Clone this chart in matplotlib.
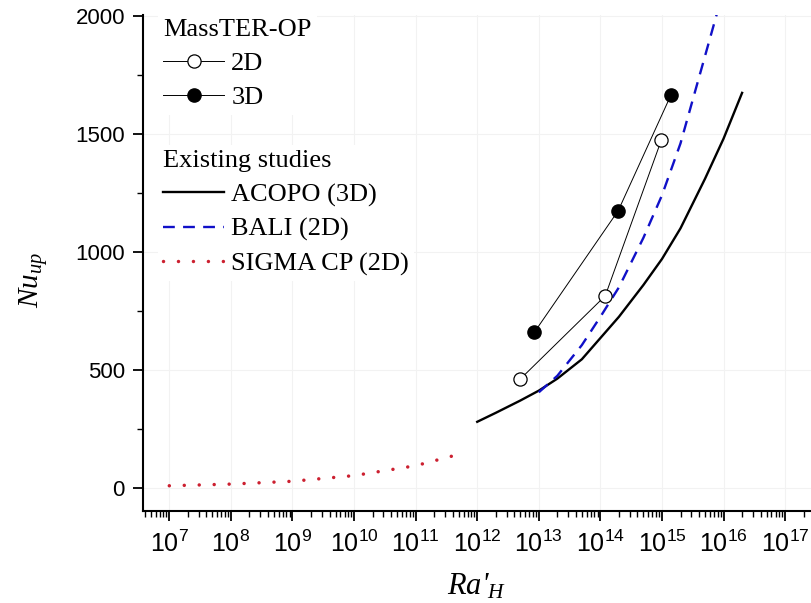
import matplotlib
matplotlib.use("Agg")
import matplotlib.pyplot as plt
from matplotlib.lines import Line2D
from matplotlib.ticker import LogLocator, NullFormatter, MultipleLocator

# MassTER-OP results
ra_2d = [5.0e12, 1.2e14, 9.8e14]
nu_2d = [461, 814, 1475]
ra_3d = [8.5e12, 1.95e14, 1.4e15]
nu_3d = [660, 1175, 1665]

# existing studies
acopo_ra = [1e12, 2e12, 5e12, 1e13, 2e13, 5e13, 1e14, 2e14, 5e14, 1e15,
            2e15, 5e15, 1e16, 2e16]
acopo_nu = [280, 318, 370, 412, 463, 545, 635, 725, 860, 970,
            1100, 1310, 1480, 1674]
bali_ra = [1e13, 2e13, 5e13, 1e14, 2e14, 5e14, 1e15, 2e15, 5e15, 1e16]
bali_nu = [405, 475, 605, 725, 850, 1060, 1240, 1460, 1830, 2110]
sigma_ra = [1e7, 1e8, 1e9, 1e10, 1e11, 5e11]
sigma_nu = [9, 16, 28, 52, 94, 142]

plt.rcParams['mathtext.fontset'] = 'custom'
plt.rcParams['mathtext.rm'] = 'Liberation Sans'
plt.rcParams['mathtext.it'] = 'Liberation Serif:italic'

fig = plt.figure(figsize=(8.11, 6.03), dpi=100)
ax = fig.add_axes([143 / 811, 92 / 603, 1 - 143 / 811, 496 / 603])

SIGMA_LS = (0, (0.01, 4.3))

ax.plot(acopo_ra, acopo_nu, color='black', lw=1.7)
ax.plot(bali_ra, bali_nu, color='#1010c8', lw=1.7, ls=(0, (5, 3.5)))
ax.plot(sigma_ra, sigma_nu, color='#cc2030', lw=2.5, ls=SIGMA_LS,
        dash_capstyle='round')
ax.plot(ra_2d, nu_2d, color='black', lw=0.7, marker='o', ms=9.5,
        mfc='white', mec='black', mew=0.9)
ax.plot(ra_3d, nu_3d, color='black', lw=0.7, marker='o', ms=9.5,
        mfc='black', mec='black')

ax.set_xscale('log')
ax.set_xlim(10 ** 6.573, 10 ** 17.42)
ax.set_ylim(-98, 2004)

ax.xaxis.set_major_locator(LogLocator(base=10, numticks=20))
ax.xaxis.set_minor_locator(LogLocator(base=10, subs=range(2, 10), numticks=200))
ax.xaxis.set_minor_formatter(NullFormatter())
ax.yaxis.set_major_locator(MultipleLocator(500))
ax.yaxis.set_minor_locator(MultipleLocator(250))

for lab in ax.get_xticklabels() + ax.get_yticklabels():
    lab.set_family('Liberation Sans')
ax.tick_params(which='major', direction='out', length=7, width=1.3,
               labelsize=16, pad=6)
ax.tick_params(which='minor', direction='out', length=4, width=1.0)
ax.tick_params(axis='x', labelsize=18, pad=7)

for s in ['top', 'right']:
    ax.spines[s].set_visible(False)
for s in ['left', 'bottom']:
    ax.spines[s].set_linewidth(1.5)

ax.grid(True, which='major', color='#f2f2f2', lw=0.8)
ax.set_axisbelow(True)

ax.set_xlabel("Ra'$_{H}$", fontsize=22, family='Liberation Serif',
              style='italic')
ax.xaxis.set_label_coords((477 - 143) / 668, -(572 - 511) / 496)
ax.set_ylabel("$Nu_{up}$", fontsize=21)
ax.yaxis.set_label_coords(-(143 - 50) / 668, (511 - 280) / 496)

leg_font = {'family': 'Liberation Serif', 'size': 19}
leg_kw = dict(loc='upper left', bbox_transform=fig.transFigure,
              alignment='left', prop=leg_font, title_fontproperties=leg_font,
              frameon=True, facecolor='white', edgecolor='none', framealpha=1,
              fancybox=False, borderpad=0.2, borderaxespad=0,
              handlelength=2.3, handletextpad=0.28, labelspacing=0.4)

h2d = Line2D([], [], color='black', lw=0.7, marker='o', ms=9.5, mfc='white',
             mec='black', mew=0.9)
h3d = Line2D([], [], color='black', lw=0.7, marker='o', ms=9.5, mfc='black')
leg1 = ax.legend([h2d, h3d], ['2D', '3D'], title='MassTER-OP',
                 bbox_to_anchor=(158 / 811, 1 - 14 / 603), **leg_kw)
ax.add_artist(leg1)

ha = Line2D([], [], color='black', lw=1.7)
hb = Line2D([], [], color='#1010c8', lw=1.7, ls=(0, (5, 3.5)))
hs = Line2D([], [], color='#cc2030', lw=2.5, ls=SIGMA_LS, dash_capstyle='round')
ax.legend([ha, hb, hs], ['ACOPO (3D)', 'BALI (2D)', 'SIGMA CP (2D)'],
          title='Existing studies',
          bbox_to_anchor=(158 / 811, 1 - 145 / 603), **leg_kw)

fig.savefig('out.png', dpi=100)
